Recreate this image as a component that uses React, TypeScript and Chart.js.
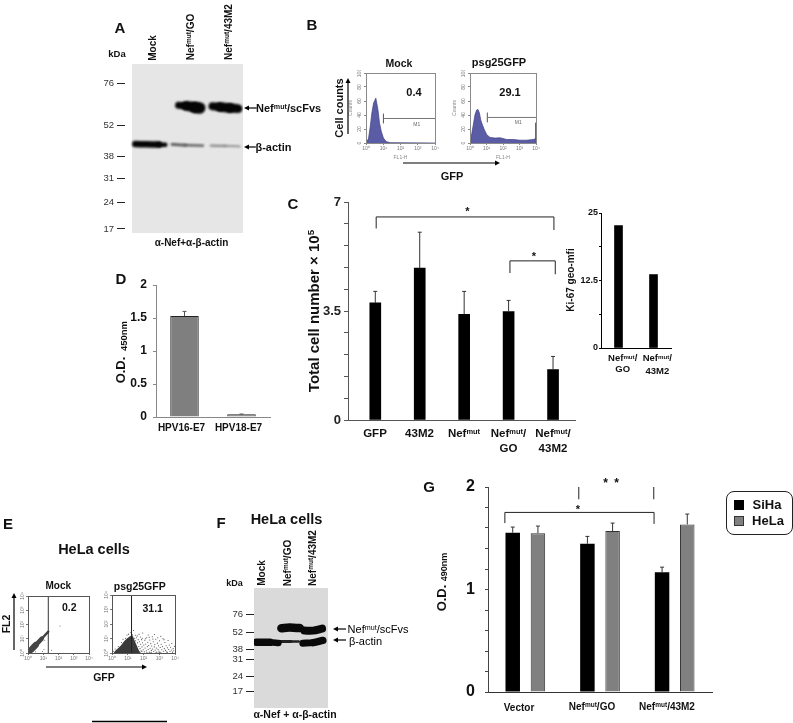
import React, { useEffect, useRef } from "react";
import { Chart, registerables } from "chart.js";
Chart.register(...registerables);
const FONT = '"Liberation Sans", Arial, sans-serif';
Chart.defaults.font.family = FONT;

// Panel C
const cellLabels = ["GFP", "43M2", "Nef^mut^", "Nef^mut^/|GO", "Nef^mut^/|43M2"];
const cellValues = [3.76, 4.88, 3.39, 3.48, 1.62];
const cellUpper = [4.13, 6.03, 4.13, 3.84, 2.04];
const cellTicks = [0, 0.7, 1.4, 2.1, 2.8, 3.5, 4.2, 4.9, 5.6, 6.3, 7];
const cellTickLabels = [0, 3.5, 7];
// Inset
const kiLabels = ["Nef^mut^/|GO", "Nef^mut^/|43M2"];
const kiValues = [22.65, 13.6];
const kiTicks = [0, 6.25, 12.5, 18.75, 25];
const kiTickLabels = [0, 12.5, 25];
// Panel D
const e7Labels = ["HPV16-E7", "HPV18-E7"];
const e7Values = [1.53, 0.04];
const e7Upper = [1.6, 0.045];
const e7Ticks = [0, 0.5, 1, 1.5, 2];
// Panel G
const mttLabels = ["Vector", "Nef^mut^/GO", "Nef^mut^/43M2"];
const sihaValues = [1.554, 1.446, 1.169];
const sihaUpper = [1.609, 1.518, 1.218];
const helaValues = [1.55, 1.57, 1.635];
const helaUpper = [1.619, 1.648, 1.736];
const mttTicks = [0, 0.2, 0.4, 0.6, 0.8, 1, 1.2, 1.4, 1.6, 1.8, 2];
const mttTickLabels = [0, 1, 2];
// Panel B histograms: [log10 FL1, counts]
const histMockX = [0, 0.06, 0.15, 0.25, 0.34, 0.44, 0.57, 0.69, 0.78, 0.88, 1.01, 1.17, 1.4, 4];
const histMockY = [0, 2, 7, 24, 43, 57, 64, 48, 29, 17, 7, 2, 0.5, 0];
const histGfpX = [0, 0.04, 0.12, 0.2, 0.3, 0.4, 0.48, 0.57, 0.65, 0.75, 0.87, 1.01, 1.21, 1.52, 1.82, 2.22, 2.63, 3.03, 3.43, 3.84, 3.94, 3.98, 4];
const histGfpY = [0, 5, 15, 26, 40, 47, 48, 43, 33, 26, 19, 12, 8, 7, 7.5, 5, 5, 4, 4, 5, 6, 29, 0];
const m1Mock = [1.01, 4];
const m1Gfp = [1.05, 4];
const m1Level = [35, 36.5];
// Panel E dot plots: log10 FL1, log10 FL2
const decades = [0, 1, 2, 3, 4];
const decadeLabels = ["10⁰", "10¹", "10²", "10³", "10⁴"];
const gateMock = 1.33;
const gateGfp = 1.24;
const mockDiagonal = [{ x: 0.18, y: 0.2, w: 7 }, { x: 0.5, y: 0.55, w: 5.5 }, { x: 0.9, y: 1.0, w: 3.5 }, { x: 1.33, y: 1.5, w: 1.2 }];
const mockDots = [[1.05, 0.25], [1.55, 0.2], [2.1, 1.9], [0.5, 0.08], [1.1, 0.9], [0.95, 0.1]];
const gfpBlob = [[0.12, 0.03], [0.28, 0.22], [0.55, 0.5], [0.8, 0.85], [1.1, 1.12], [1.28, 1.2], [1.42, 0.9], [1.58, 0.5], [1.72, 0.15], [1.82, 0.03]];
const gfpDots = [[1.3, 1.25], [1.44, 1.02], [1.5, 0.85], [1.55, 1.05], [1.62, 0.7], [1.66, 0.92], [1.7, 0.45], [1.74, 0.78], [1.78, 0.3], [1.82, 0.6], [1.85, 0.15], [1.88, 0.92],
  [1.9, 0.42], [1.94, 0.71], [1.98, 0.22], [2.02, 0.55], [2.05, 0.08], [2.08, 0.88], [2.1, 0.35], [2.14, 0.62], [2.18, 0.15], [2.2, 1.05], [2.24, 0.44], [2.27, 0.74], [2.3, 0.24],
  [2.33, 0.52], [2.37, 0.06], [2.4, 0.9], [2.42, 0.33], [2.46, 0.65], [2.5, 0.18], [2.52, 0.48], [2.56, 1.12], [2.58, 0.28], [2.62, 0.78], [2.65, 0.1], [2.68, 0.42], [2.72, 0.58],
  [2.74, 0.2], [2.78, 0.95], [2.82, 0.34], [2.85, 0.07], [2.88, 0.68], [2.92, 0.26], [2.95, 0.5], [2.98, 0.14], [3.02, 0.84], [3.06, 0.38], [3.1, 0.05], [3.12, 0.6], [3.16, 0.22],
  [3.2, 0.44], [3.24, 1.0], [3.28, 0.12], [3.32, 0.3], [3.36, 0.72], [3.4, 0.18], [3.44, 0.5], [3.48, 0.08], [3.52, 0.36], [3.56, 0.86], [3.6, 0.24], [3.64, 0.55], [3.68, 0.1],
  [3.72, 0.4], [3.76, 0.2], [3.8, 0.66], [3.84, 0.06], [3.88, 0.3], [3.92, 0.16], [3.96, 0.46], [1.35, 0.75], [1.48, 1.22], [1.6, 1.18], [1.72, 1.3], [1.95, 1.38], [2.3, 1.24],
  [2.7, 1.28], [1.2, 1.42], [1.05, 1.3], [0.85, 1.02], [0.6, 0.72], [0.4, 0.45], [0.2, 0.28], [0.08, 0.12], [0.7, 0.95], [0.95, 1.24], [1.36, 1.55], [1.8, 1.1], [1.92, 1.02],
  [2.12, 0.98], [2.36, 1.08], [2.6, 0.96], [2.9, 1.05], [3.3, 0.92], [3.1, 1.15], [1.76, 0.05], [1.9, 0.1], [2.22, 0.03], [2.48, 0.04], [2.8, 0.03], [3.0, 0.04], [3.5, 0.03]];
// Panels A and F: blots, positions in percent of the membrane
const kdaMarkers = ["76", "52", "38", "31", "24", "17"];
const markersA = [11.4, 36.2, 54.7, 67.7, 81.9, 97.6];
const markersF = [22.25, 37, 51.4, 59.75, 73.7, 86.2];
const bandsA = [
  { c: "#050505", p: [{ x: 42, y: 24.4, w: 6 }, { x: 49, y: 24.8, w: 8 }, { x: 57, y: 25.7, w: 12 }, { x: 61, y: 26, w: 11 }] },
  { c: "#050505", p: [{ x: 72.5, y: 25, w: 7 }, { x: 79.3, y: 25.5, w: 9 }, { x: 88.3, y: 26, w: 10 }, { x: 95.5, y: 26.4, w: 8 }] },
  { c: "#050505", p: [{ x: 3, y: 47.4, w: 6 }, { x: 13, y: 47.5, w: 7 }, { x: 24, y: 47.7, w: 6 }, { x: 30, y: 47.8, w: 3 }] },
  { c: "#555555", p: [{ x: 36, y: 47.6, w: 3 }, { x: 48, y: 48, w: 2.5 }, { x: 64, y: 48.3, w: 2 }] },
  { c: "#888888", p: [{ x: 71, y: 48.3, w: 2.5 }, { x: 84, y: 48.5, w: 2 }, { x: 97, y: 48.8, w: 1.5 }] },
];
const bandsF = [
  { c: "#0a0a0a", p: [{ x: 3, y: 45.3, w: 7 }, { x: 21.5, y: 45.3, w: 8 }, { x: 33, y: 45.8, w: 5 }] },
  { c: "#222222", p: [{ x: 35, y: 44.6, w: 3 }, { x: 50, y: 44.6, w: 3 }, { x: 60.5, y: 44.6, w: 2 }] },
  { c: "#0a0a0a", p: [{ x: 66, y: 46, w: 6 }, { x: 80, y: 45.5, w: 8 }, { x: 93, y: 43.7, w: 7 }] },
  { c: "#0a0a0a", p: [{ x: 37, y: 33.6, w: 7 }, { x: 48, y: 33, w: 10 }, { x: 62, y: 33.4, w: 7 }] },
  { c: "#0a0a0a", p: [{ x: 68, y: 35.5, w: 7 }, { x: 80, y: 35.5, w: 9 }, { x: 92, y: 33.8, w: 7 }] },
];

type Overlay = { bg?: [number, number, string]; blur?: number; frame?: string; errors?: { upper: number[]; cap: number; color: string }[]; paths?: number[][][]; pathColor?: string };
function overlay(o: Overlay) {
  return {
    id: "overlay",
    beforeDatasetsDraw(chart: any) {
      const { ctx, scales, chartArea: a } = chart;
      if (o.bg) {
        ctx.fillStyle = o.bg[2];
        const l = scales.x.getPixelForValue(o.bg[0]);
        ctx.fillRect(l, a.top, scales.x.getPixelForValue(o.bg[1]) - l, a.bottom - a.top);
      }
      ctx.save();
      if (o.blur) ctx.filter = `blur(${o.blur}px)`;
    },
    afterDatasetsDraw(chart: any) {
      const { ctx, scales, chartArea: a } = chart;
      ctx.restore();
      (o.errors || []).forEach((e, i) => {
        const meta = chart.getDatasetMeta(i);
        ctx.strokeStyle = e.color;
        ctx.lineWidth = 1;
        e.upper.forEach((u, j) => {
          const el = meta.data[j];
          const y = scales.y.getPixelForValue(u);
          ctx.beginPath();
          ctx.moveTo(el.x, el.y);
          ctx.lineTo(el.x, y);
          ctx.moveTo(el.x - e.cap, y);
          ctx.lineTo(el.x + e.cap, y);
          ctx.stroke();
        });
      });
      (o.paths || []).forEach((p) => {
        ctx.strokeStyle = o.pathColor || "#222";
        ctx.lineWidth = 1;
        ctx.beginPath();
        p.forEach(([x, y], k) => {
          const px = scales.x.getPixelForValue(x);
          const py = scales.y.getPixelForValue(y);
          if (k) ctx.lineTo(px, py);
          else ctx.moveTo(px, py);
        });
        ctx.stroke();
      });
      if (o.frame) {
        ctx.strokeStyle = o.frame;
        ctx.lineWidth = 1;
        ctx.strokeRect(Math.round(a.left) + 0.5, Math.round(a.top) + 0.5, Math.round(a.right - a.left), Math.round(a.bottom - a.top));
      }
    },
  };
}

function valueAxis(values: number[], o: any) {
  return {
    type: "linear", min: o.min ?? values[0], max: o.max ?? values[values.length - 1], reverse: !!o.reverse,
    afterBuildTicks: (s: any) => { s.ticks = values.map((value) => ({ value })); },
    border: { display: o.border !== false, color: o.color, width: 1 },
    grid: { drawOnChartArea: false, drawTicks: true, tickLength: o.len, tickColor: o.color, tickWidth: 1 },
    ticks: {
      autoSkip: false, padding: o.pad ?? 3, color: o.text ?? "#111", font: { size: o.size, weight: o.weight ?? "bold" }, callback: o.fmt,
      minRotation: o.rot ?? 0, maxRotation: o.rot ?? 0, crossAlign: o.rot ? "center" : "near",
    },
    title: o.title ? { display: true, text: o.title, font: { size: 5 }, color: "#888", padding: 0 } : { display: false },
  };
}
function baseAxis(color: string, o: any = {}) {
  return {
    border: { display: true, color, width: 1 },
    grid: { display: false, drawOnChartArea: false, drawTicks: false },
    ticks: { display: false },
    ...o,
  };
}
const labelIf = (list: number[]) => (v: number) => (list.includes(v) ? String(v) : "");

function Panel({ rect, m, config }: { rect: number[]; m: number[]; config: any }) {
  const ref = useRef<HTMLCanvasElement>(null);
  const [x0, y0, x1, y1] = rect;
  const [l, t, r, b] = m;
  const w = x1 - x0 + l + r;
  const h = y1 - y0 + t + b;
  useEffect(() => {
    const opts = config.options || {};
    opts.responsive = false;
    opts.animation = false;
    opts.devicePixelRatio = 1;
    opts.events = [];
    opts.layout = { padding: { top: t, right: r, left: 0, bottom: 0 } };
    opts.plugins = { legend: { display: false }, tooltip: { enabled: false }, title: { display: false } };
    opts.scales.x.afterFit = (s: any) => { s.height = b; s.paddingLeft = 0; s.paddingRight = 0; };
    opts.scales.y.afterFit = (s: any) => { s.width = l; s.paddingTop = 0; s.paddingBottom = 0; };
    const chart = new Chart(ref.current as HTMLCanvasElement, { ...config, options: opts });
    return () => chart.destroy();
  }, []);
  return <canvas ref={ref} width={w} height={h} style={{ position: "absolute", left: x0 - l, top: y0 - t, width: w, height: h }} />;
}

function rich(s: string) {
  return s.split("^").map((part, i) =>
    i % 2 ? <sup key={i} style={{ fontSize: "0.65em", lineHeight: 0, verticalAlign: "0.42em" }}>{part}</sup> : <span key={i}>{part}</span>
  );
}
function T({ x, y, s = 10, w = 700, rot = 0, c = "#111", t }: { x: number; y: number; s?: number; w?: number; rot?: number; c?: string; t: string }) {
  return (
    <div style={{ position: "absolute", left: x, top: y, transform: `translate(-50%,-50%) rotate(${rot}deg)`, fontSize: s, fontWeight: w, color: c, whiteSpace: "nowrap", lineHeight: 1, fontFamily: FONT }}>
      {rich(t)}
    </div>
  );
}

const arrows = [
  [256.7, 108, 244, 108], [256, 147, 244, 147], [348, 134, 348, 78], [403, 163, 500, 163],
  [14, 650, 14, 593], [46, 667, 147, 667], [346, 629, 333, 629], [346, 640, 333, 640],
];
function Arrows() {
  return (
    <svg width={793} height={723} style={{ position: "absolute", left: 0, top: 0 }}>
      {arrows.map(([a, b, c, d], i) => {
        const dx = Math.sign(c - a);
        const dy = Math.sign(d - b);
        const head = `${c},${d} ${c - dx * 5 - dy * 2.5},${d - dy * 5 - dx * 2.5} ${c - dx * 5 + dy * 2.5},${d - dy * 5 + dx * 2.5}`;
        return (
          <g key={i}>
            <line x1={a} y1={b} x2={c - dx * 4} y2={d - dy * 4} stroke="#000" strokeWidth={1.2} />
            <polygon points={head} fill="#000" />
          </g>
        );
      })}
      <line x1={92} y1={721.5} x2={167} y2={721.5} stroke="#000" strokeWidth={1.5} />
    </svg>
  );
}

const thick = (b: { c: string; p: any[] }) => ({
  type: "line", data: b.p, borderColor: b.c, backgroundColor: b.c, pointRadius: 0, tension: 0.3, borderCapStyle: "round", borderJoinStyle: "round",
  segment: { borderWidth: (ctx: any) => (b.p[ctx.p0DataIndex].w + b.p[ctx.p1DataIndex].w) / 2 },
});
const pairs = (xs: number[], ys: number[]) => xs.map((x, i) => ({ x, y: ys[i] }));
const flatLine = (p: number[][], color: string, width = 1) => ({ type: "line", data: p.map(([x, y]) => ({ x, y })), borderColor: color, borderWidth: width, pointRadius: 0 });

function histConfig(xs: number[], ys: number[], m1: number[], level: number) {
  return {
    type: "line",
    data: {
      datasets: [
        flatLine([[m1[0], level], [m1[1], level]], "#777"),
        flatLine([[m1[0], level - 7], [m1[0], level + 7]], "#555"),
        { data: pairs(xs, ys), borderColor: "#3f3f80", borderWidth: 0.7, backgroundColor: "#5a5ca6", fill: "origin", pointRadius: 0 },
      ],
    },
    plugins: [overlay({ frame: "#8a8a8a" })],
    options: {
      scales: {
        x: valueAxis(decades, { color: "#888", len: 2, size: 5, weight: "normal", text: "#777", pad: 1, fmt: (v: number) => decadeLabels[v], title: "FL1-H" }),
        y: valueAxis([0, 20, 40, 60, 80, 100], { color: "#888", len: 2, size: 5, weight: "normal", text: "#777", pad: 0, rot: 90, fmt: (v: number) => String(v), title: "Counts" }),
      },
    },
  };
}
function dotConfig(datasets: any[], blur: number) {
  return {
    type: "line",
    data: { datasets },
    plugins: [overlay({ frame: "#555", blur })],
    options: {
      scales: {
        x: valueAxis(decades, { color: "#777", len: 2, size: 5, weight: "normal", text: "#777", pad: 1, fmt: (v: number) => decadeLabels[v] }),
        y: valueAxis(decades, { color: "#777", len: 2, size: 5, weight: "normal", text: "#777", pad: 0, rot: 90, fmt: (v: number) => decadeLabels[v] }),
      },
    },
  };
}
function blotConfig(bands: any[], markers: number[], bg: string, xMin: number, blur: number) {
  return {
    type: "line",
    data: { datasets: bands.map(thick) },
    plugins: [overlay({ bg: [0, 100, bg], blur })],
    options: {
      scales: {
        x: { type: "linear", min: xMin, max: 100, ...baseAxis("rgba(0,0,0,0)", { border: { display: false } }) },
        y: valueAxis(markers, { min: 0, max: 100, reverse: true, border: false, color: "#222", len: 8, size: 9.5, weight: "normal", text: "#333", pad: 3, fmt: (v: number) => kdaMarkers[markers.indexOf(v)] }),
      },
    },
  };
}

const configC = {
  type: "bar",
  data: { datasets: [{ data: cellValues.map((y, i) => ({ x: i + 1, y })), backgroundColor: "#000", barThickness: 11 }] },
  plugins: [overlay({
    errors: [{ upper: cellUpper, cap: 2, color: "#333" }],
    paths: [[[1.02, 6.15], [1.02, 6.52], [5.02, 6.52], [5.02, 6.1]], [[4.03, 4.72], [4.03, 5.11], [5.05, 5.11], [5.05, 4.68]]],
  })],
  options: {
    scales: {
      x: { type: "linear", min: 0.386, max: 5.494, offset: false, ...baseAxis("#555") },
      y: valueAxis(cellTicks, { color: "#555", len: 4, size: 13, fmt: labelIf(cellTickLabels), text: "#222" }),
    },
  },
};
const configKi = {
  type: "bar",
  data: { labels: kiLabels, datasets: [{ data: kiValues, backgroundColor: "#000", barThickness: 8 }] },
  options: {
    scales: {
      x: { type: "category", offset: true, ...baseAxis("#000") },
      y: valueAxis(kiTicks, { color: "#000", len: 2, size: 9, fmt: labelIf(kiTickLabels), pad: 1 }),
    },
  },
};
const configD = {
  type: "bar",
  data: { labels: e7Labels, datasets: [{ data: e7Values, backgroundColor: "#7f7f7f", borderColor: "#222", borderWidth: 1, barPercentage: 0.5, categoryPercentage: 1 }] },
  plugins: [overlay({ errors: [{ upper: e7Upper, cap: 2, color: "#555" }] })],
  options: {
    scales: {
      x: { type: "category", offset: true, border: { display: true, color: "#888" }, grid: { display: false, drawTicks: false }, ticks: { color: "#111", font: { size: 10, weight: "bold" }, padding: 5, labelOffset: -3, maxRotation: 0, autoSkip: false } },
      y: valueAxis(e7Ticks, { color: "#888", len: 3, size: 12, pad: 6, fmt: (v: number) => String(v) }),
    },
  },
};
const configG = {
  type: "bar",
  data: {
    labels: mttLabels,
    datasets: [
      { label: "SiHa", data: sihaValues, backgroundColor: "#000", barPercentage: 0.575, categoryPercentage: 0.675 },
      { label: "HeLa", data: helaValues, backgroundColor: "#808080", borderColor: "#333", borderWidth: 1, barPercentage: 0.575, categoryPercentage: 0.675 },
    ],
  },
  plugins: [overlay({
    errors: [{ upper: sihaUpper, cap: 2, color: "#333" }, { upper: helaUpper, cap: 2, color: "#333" }],
    paths: [[[-0.274, 1.648], [-0.274, 1.752], [1.724, 1.752], [1.724, 1.64]], [[0.716, 2.0], [0.716, 1.88]], [[1.72, 2.0], [1.72, 1.88]]],
  })],
  options: {
    scales: {
      x: { type: "category", offset: true, ...baseAxis("#333") },
      y: valueAxis(mttTicks, { color: "#444", len: 3, size: 16, pad: 10, fmt: labelIf(mttTickLabels) }),
    },
  },
};
const configHistMock = histConfig(histMockX, histMockY, m1Mock, m1Level[0]);
const configHistGfp = histConfig(histGfpX, histGfpY, m1Gfp, m1Level[1]);
const configDotMock = dotConfig([
  flatLine([[gateMock, 0], [gateMock, 4]], "#333"),
  { type: "line", data: mockDots.map(([x, y]) => ({ x, y })), showLine: false, pointRadius: 0.5, pointBackgroundColor: "#555", pointBorderWidth: 0 },
  thick({ c: "#444", p: mockDiagonal }),
], 0.3);
const configDotGfp = dotConfig([
  flatLine([[gateGfp, 0], [gateGfp, 4]], "#222"),
  { type: "line", data: gfpDots.map(([x, y]) => ({ x, y })), showLine: false, pointRadius: 0.55, pointBackgroundColor: "#444", pointBorderWidth: 0 },
  { type: "line", data: gfpBlob.map(([x, y]) => ({ x, y })), borderColor: "#333", borderWidth: 0, backgroundColor: "#3a3a3a", fill: "origin", pointRadius: 0, tension: 0.35 },
], 0.5);
const configBlotA = blotConfig(bandsA, markersA, "#e6e6e6", -6.3, 0.8);
const configBlotF = blotConfig(bandsF, markersF, "#dadada", 0, 0.7);

export default function App() {
  return (
    <div style={{ position: "absolute", left: 0, top: 0, width: 793, height: 723, overflow: "hidden", background: "#fff", fontFamily: FONT }}>
      <Panel rect={[125, 64, 243, 233]} m={[30, 2, 2, 2]} config={configBlotA} />
      <Panel rect={[366, 73, 435, 143]} m={[18, 3, 6, 18]} config={configHistMock} />
      <Panel rect={[470, 73, 536, 143]} m={[18, 3, 6, 18]} config={configHistGfp} />
      <Panel rect={[348, 202, 575, 420]} m={[40, 6, 4, 6]} config={configC} />
      <Panel rect={[601, 213, 671, 348]} m={[24, 6, 4, 6]} config={configKi} />
      <Panel rect={[156, 285, 270, 417]} m={[40, 8, 4, 26]} config={configD} />
      <Panel rect={[28, 595, 89, 653]} m={[14, 3, 5, 14]} config={configDotMock} />
      <Panel rect={[112, 594, 175, 653]} m={[14, 3, 5, 14]} config={configDotGfp} />
      <Panel rect={[254, 588, 328, 708]} m={[30, 2, 2, 2]} config={configBlotF} />
      <Panel rect={[488, 487, 712, 692]} m={[40, 8, 4, 6]} config={configG} />
      <Arrows />

      <T x={120} y={27} s={15} t="A" />
      <T x={312} y={24} s={15} t="B" />
      <T x={293} y={203} s={15} t="C" />
      <T x={121} y={278} s={15} t="D" />
      <T x={8} y={523} s={15} t="E" />
      <T x={221} y={522} s={15} t="F" />
      <T x={429} y={486} s={15} t="G" />

      <T x={117} y={54} s={9.5} t="kDa" />
      <T x={153} y={47.5} s={10} rot={-90} t="Mock" />
      <T x={190.7} y={36.8} s={10} rot={-90} t="Nef^mut^/GO" />
      <T x={229} y={32} s={10} rot={-90} t="Nef^mut^/43M2" />
      <T x={288.6} y={108} s={11} t="Nef^mut^/scFvs" />
      <T x={273.5} y={147} s={11} t="β-actin" />
      <T x={191.5} y={243} s={10} t="α-Nef+α-β-actin" />

      <T x={399} y={62.7} s={10.5} t="Mock" />
      <T x={499} y={62} s={11} t="psg25GFP" />
      <T x={414} y={92} s={11} t="0.4" />
      <T x={510} y={92} s={11} t="29.1" />
      <T x={339.3} y={108} s={11} rot={-90} t="Cell counts" />
      <T x={452} y={176} s={11} t="GFP" />
      <T x={416.7} y={123.7} s={5} w={400} c="#666" t="M1" />
      <T x={518.3} y={121.7} s={5} w={400} c="#666" t="M1" />

      <T x={313.3} y={311} s={15} rot={-90} t="Total cell number × 10^5^" />
      {cellLabels.map((lab, i) =>
        lab.split("|").map((line, k) => <T key={`${i}-${k}`} x={375 + i * 44.5} y={434 + k * 15.3} s={11.5} t={line} />)
      )}
      <T x={467.3} y={211} s={11} t="*" />
      <T x={534} y={256} s={11} t="*" />

      <T x={571} y={280} s={10} rot={-90} t="Ki-67 geo-mfi" />
      {kiLabels.map((lab, i) =>
        lab.split("|").map((line, k) => <T key={`${i}-${k}`} x={622.7 + i * 34.6} y={357.7 + k * (11.5 + i * 1.5)} s={9.5} t={line} />)
      )}

      <T x={119.5} y={370} s={13} rot={-90} t="O.D." />
      <T x={124} y={336} s={9.5} rot={-90} t="450nm" />

      <T x={94} y={549} s={14.5} t="HeLa cells" />
      <T x={58.3} y={586} s={10} t="Mock" />
      <T x={139.7} y={586} s={10.5} t="psg25GFP" />
      <T x={69.3} y={607} s={10.5} t="0.2" />
      <T x={152.7} y={608} s={10.5} t="31.1" />
      <T x={6} y={624} s={10.5} rot={-90} t="FL2" />
      <T x={104} y={677.3} s={10.5} t="GFP" />

      <T x={286.5} y={519} s={14.5} t="HeLa cells" />
      <T x={234.5} y={583} s={9} t="kDa" />
      <T x={262} y={573} s={10} rot={-90} t="Mock" />
      <T x={288} y={563} s={10} rot={-90} t="Nef^mut^/GO" />
      <T x={313} y={558} s={10} rot={-90} t="Nef^mut^/43M2" />
      <T x={378} y={629} s={11} w={400} c="#000" t="Nef^mut^/scFvs" />
      <T x={365.5} y={641} s={11} w={400} c="#000" t="β-actin" />
      <T x={295} y={713.5} s={10.5} t="α-Nef + α-β-actin" />

      <T x={440.8} y={598} s={13} rot={-90} t="O.D." />
      <T x={443.5} y={567} s={9} rot={-90} t="490nm" />
      <T x={519} y={708} s={10} t={mttLabels[0]} />
      <T x={592} y={707} s={10} t={mttLabels[1]} />
      <T x={667} y={707} s={10} t={mttLabels[2]} />
      <T x={605.7} y={483} s={12} t="*" />
      <T x={616.7} y={483} s={12} t="*" />
      <T x={578} y={509} s={11} t="*" />

      <div style={{ position: "absolute", left: 726, top: 491, width: 65, height: 42, border: "1px solid #222", borderRadius: 8, background: "#fff" }} />
      <div style={{ position: "absolute", left: 734, top: 500, width: 10, height: 10, background: "#000" }} />
      <div style={{ position: "absolute", left: 734, top: 516, width: 8, height: 8, background: "#808080", border: "1px solid #333" }} />
      <T x={767} y={504} s={13} t="SiHa" />
      <T x={768} y={520} s={13} t="HeLa" />
    </div>
  );
}
